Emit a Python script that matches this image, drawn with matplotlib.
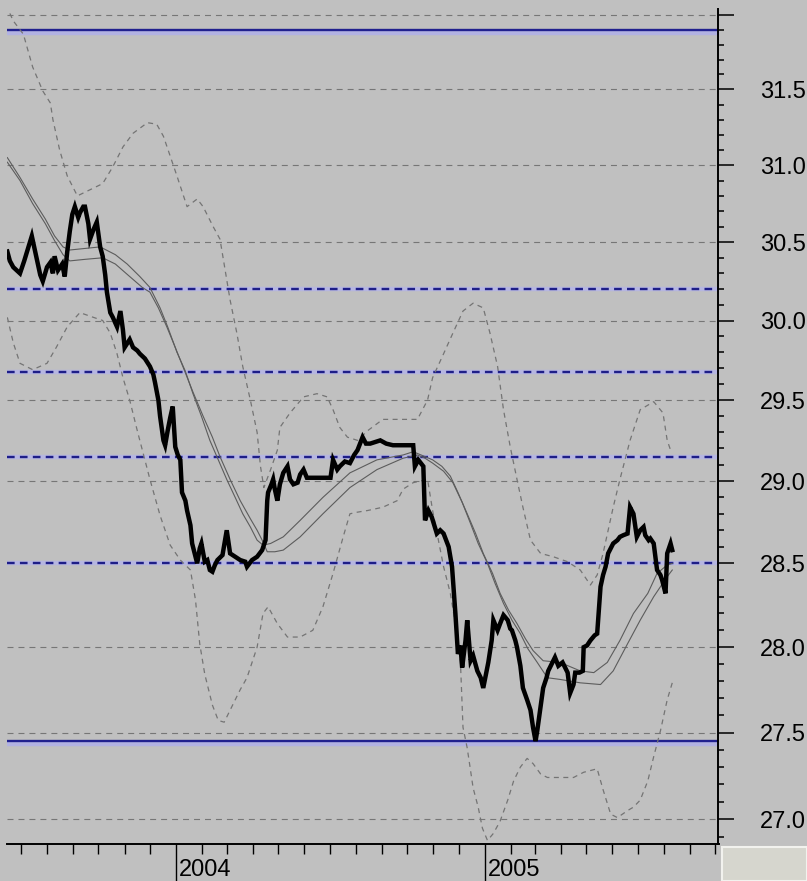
import matplotlib
matplotlib.use("Agg")
import matplotlib.pyplot as plt
import matplotlib.dates as mdates
import matplotlib.transforms as mtransforms
from matplotlib.patches import Rectangle
from matplotlib.ticker import FixedLocator, FuncFormatter, NullFormatter
import pandas as pd

plt.rcParams['font.family'] = ['Liberation Sans', 'DejaVu Sans']
plt.rcParams['lines.scale_dashes'] = False

# ---------------- data ----------------
price_dates = [
    '2003-06-15', '2003-06-18', '2003-06-22', '2003-06-26', '2003-06-30', '2003-07-05', '2003-07-09', '2003-07-14', '2003-07-18', '2003-07-20',
    '2003-07-24', '2003-07-27', '2003-08-01', '2003-08-05', '2003-08-08', '2003-08-10', '2003-08-14', '2003-08-19', '2003-08-22', '2003-08-25',
    '2003-08-28', '2003-08-31', '2003-09-03', '2003-09-07', '2003-09-09', '2003-09-13', '2003-09-15', '2003-09-19', '2003-09-21', '2003-09-25',
    '2003-09-29', '2003-10-03', '2003-10-06', '2003-10-09', '2003-10-11', '2003-10-15', '2003-10-18', '2003-10-23', '2003-10-27', '2003-10-30',
    '2003-11-01', '2003-11-07', '2003-11-11', '2003-11-16', '2003-11-19', '2003-11-25', '2003-12-01', '2003-12-05', '2003-12-07', '2003-12-11',
    '2003-12-13', '2003-12-17', '2003-12-19', '2003-12-22', '2003-12-25', '2003-12-28', '2003-12-31', '2004-01-03', '2004-01-06', '2004-01-08',
    '2004-01-12', '2004-01-14', '2004-01-18', '2004-01-20', '2004-01-24', '2004-01-26', '2004-01-29', '2004-01-31', '2004-02-04', '2004-02-07',
    '2004-02-10', '2004-02-13', '2004-02-16', '2004-02-19', '2004-02-25', '2004-02-28', '2004-03-01', '2004-03-05', '2004-03-11', '2004-03-17',
    '2004-03-23', '2004-03-25', '2004-03-31', '2004-04-06', '2004-04-12', '2004-04-16', '2004-04-17', '2004-04-18', '2004-04-19', '2004-04-23',
    '2004-04-25', '2004-04-27', '2004-04-30', '2004-05-03', '2004-05-07', '2004-05-12', '2004-05-15', '2004-05-19', '2004-05-24', '2004-05-27',
    '2004-05-31', '2004-06-04', '2004-06-08', '2004-06-14', '2004-06-23', '2004-07-02', '2004-07-05', '2004-07-10', '2004-07-13', '2004-07-19',
    '2004-07-25', '2004-07-30', '2004-08-03', '2004-08-06', '2004-08-09', '2004-08-13', '2004-08-18', '2004-08-24', '2004-08-30', '2004-09-06',
    '2004-09-14', '2004-09-23', '2004-09-28', '2004-10-04', '2004-10-08', '2004-10-10', '2004-10-14', '2004-10-20', '2004-10-22', '2004-10-26',
    '2004-10-30', '2004-11-05', '2004-11-09', '2004-11-13', '2004-11-19', '2004-11-23', '2004-11-27', '2004-11-30', '2004-12-03', '2004-12-05',
    '2004-12-09', '2004-12-11', '2004-12-15', '2004-12-18', '2004-12-23', '2004-12-27', '2004-12-30', '2005-01-03', '2005-01-05', '2005-01-09',
    '2005-01-11', '2005-01-16', '2005-01-19', '2005-01-23', '2005-01-28', '2005-01-31', '2005-02-02', '2005-02-06', '2005-02-08', '2005-02-12',
    '2005-02-15', '2005-02-20', '2005-02-24', '2005-02-27', '2005-03-02', '2005-03-04', '2005-03-08', '2005-03-11', '2005-03-15', '2005-03-17',
    '2005-03-22', '2005-03-25', '2005-03-29', '2005-04-03', '2005-04-06', '2005-04-09', '2005-04-12', '2005-04-16', '2005-04-18', '2005-04-23',
    '2005-04-27', '2005-04-28', '2005-05-02', '2005-05-06', '2005-05-11', '2005-05-14', '2005-05-18', '2005-05-21', '2005-05-24', '2005-05-27',
    '2005-05-30', '2005-06-02', '2005-06-07', '2005-06-10', '2005-06-14', '2005-06-19', '2005-06-22', '2005-06-26', '2005-06-28', '2005-06-30',
    '2005-07-04', '2005-07-08', '2005-07-10', '2005-07-14', '2005-07-16', '2005-07-20', '2005-07-24', '2005-07-28', '2005-07-30', '2005-08-03',
    '2005-08-05', '2005-08-09', '2005-08-11',
]
price_values = [
    30.44, 30.38, 30.34, 30.32, 30.30, 30.38, 30.45, 30.54, 30.44, 30.39,
    30.29, 30.25, 30.34, 30.37, 30.30, 30.41, 30.32, 30.36, 30.28, 30.44,
    30.57, 30.68, 30.73, 30.66, 30.69, 30.73, 30.73, 30.62, 30.52, 30.58,
    30.63, 30.47, 30.41, 30.29, 30.18, 30.05, 30.02, 29.96, 30.06, 29.94,
    29.83, 29.88, 29.83, 29.81, 29.79, 29.76, 29.71, 29.66, 29.61, 29.50,
    29.40, 29.25, 29.22, 29.31, 29.39, 29.46, 29.21, 29.16, 29.13, 28.93,
    28.88, 28.82, 28.73, 28.62, 28.54, 28.50, 28.59, 28.62, 28.51, 28.52,
    28.46, 28.45, 28.49, 28.52, 28.55, 28.64, 28.70, 28.56, 28.54, 28.52,
    28.51, 28.48, 28.52, 28.54, 28.58, 28.64, 28.76, 28.88, 28.93, 28.98,
    29.01, 28.95, 28.88, 28.98, 29.05, 29.09, 29.01, 28.98, 28.99, 29.04,
    29.07, 29.02, 29.02, 29.02, 29.02, 29.02, 29.13, 29.07, 29.09, 29.12,
    29.11, 29.16, 29.19, 29.23, 29.27, 29.23, 29.23, 29.24, 29.25, 29.23,
    29.22, 29.22, 29.22, 29.22, 29.22, 29.09, 29.13, 29.09, 28.76, 28.82,
    28.78, 28.68, 28.70, 28.68, 28.60, 28.48, 28.20, 27.96, 28.01, 27.88,
    28.04, 28.16, 27.92, 27.95, 27.86, 27.82, 27.76, 27.86, 27.91, 28.04,
    28.16, 28.10, 28.14, 28.19, 28.16, 28.11, 28.10, 28.04, 28.00, 27.89,
    27.76, 27.69, 27.63, 27.53, 27.45, 27.51, 27.65, 27.76, 27.82, 27.86,
    27.91, 27.94, 27.89, 27.91, 27.88, 27.85, 27.73, 27.78, 27.85, 27.85,
    27.86, 28.00, 28.01, 28.04, 28.07, 28.08, 28.36, 28.43, 28.48, 28.56,
    28.59, 28.62, 28.64, 28.66, 28.67, 28.68, 28.84, 28.80, 28.73, 28.66,
    28.70, 28.72, 28.67, 28.64, 28.65, 28.62, 28.46, 28.43, 28.40, 28.32,
    28.56, 28.62, 28.58,
]

ma_upper_dates = [
    '2003-06-15', '2003-06-30', '2003-07-15', '2003-07-30', '2003-08-10', '2003-08-20', '2003-08-28', '2003-09-15', '2003-10-03', '2003-10-21',
    '2003-11-04', '2003-11-19', '2003-12-01', '2003-12-13', '2003-12-22', '2004-01-02', '2004-01-12', '2004-01-21', '2004-01-31', '2004-02-10',
    '2004-02-20', '2004-03-01', '2004-03-11', '2004-03-20', '2004-03-29', '2004-04-06', '2004-04-13', '2004-04-22', '2004-05-07', '2004-05-27',
    '2004-06-23', '2004-07-25', '2004-08-26', '2004-09-26', '2004-10-08', '2004-10-22', '2004-10-31', '2004-11-11', '2004-11-21', '2004-11-30',
    '2004-12-11', '2004-12-21', '2004-12-30', '2005-01-10', '2005-01-19', '2005-01-29', '2005-02-08', '2005-02-18', '2005-02-27', '2005-03-11',
    '2005-03-31', '2005-04-24', '2005-05-10', '2005-05-26', '2005-06-10', '2005-06-26', '2005-07-13', '2005-07-24', '2005-08-05', '2005-08-11',
]
ma_upper_values = [
    31.05, 30.92, 30.78, 30.65, 30.54, 30.47, 30.45, 30.46, 30.47, 30.42,
    30.36, 30.28, 30.21, 30.08, 29.96, 29.80, 29.68, 29.54, 29.40, 29.25,
    29.13, 29.01, 28.90, 28.80, 28.72, 28.64, 28.61, 28.62, 28.66, 28.76,
    28.90, 29.05, 29.13, 29.16, 29.18, 29.15, 29.13, 29.09, 29.03, 28.93,
    28.80, 28.68, 28.56, 28.44, 28.32, 28.22, 28.14, 28.05, 27.98, 27.92,
    27.91, 27.86, 27.85, 27.91, 28.04, 28.20, 28.32, 28.44, 28.49, 28.50,
]

ma_lower_dates = [
    '2003-06-15', '2003-06-30', '2003-07-15', '2003-07-30', '2003-08-10', '2003-08-20', '2003-08-28', '2003-09-15', '2003-10-06', '2003-10-21',
    '2003-11-07', '2003-11-22', '2003-12-01', '2003-12-11', '2003-12-21', '2003-12-31', '2004-01-09', '2004-01-21', '2004-02-02', '2004-02-13',
    '2004-02-22', '2004-03-05', '2004-03-17', '2004-03-29', '2004-04-06', '2004-04-12', '2004-04-18', '2004-04-27', '2004-05-07', '2004-05-27',
    '2004-06-23', '2004-07-25', '2004-08-26', '2004-09-26', '2004-10-13', '2004-10-22', '2004-10-31', '2004-11-13', '2004-11-24', '2004-12-05',
    '2004-12-15', '2004-12-24', '2005-01-04', '2005-01-13', '2005-01-23', '2005-02-02', '2005-02-12', '2005-02-21', '2005-03-04', '2005-03-16',
    '2005-03-31', '2005-04-24', '2005-05-18', '2005-06-02', '2005-06-19', '2005-07-04', '2005-07-20', '2005-08-05', '2005-08-11',
]
ma_lower_values = [
    31.02, 30.90, 30.75, 30.62, 30.51, 30.42, 30.38, 30.39, 30.40, 30.36,
    30.28, 30.21, 30.18, 30.08, 29.96, 29.83, 29.71, 29.55, 29.40, 29.27,
    29.15, 29.01, 28.88, 28.77, 28.70, 28.64, 28.57, 28.57, 28.58, 28.66,
    28.80, 28.96, 29.07, 29.14, 29.16, 29.14, 29.11, 29.06, 28.99, 28.87,
    28.74, 28.62, 28.50, 28.38, 28.26, 28.16, 28.08, 27.99, 27.91, 27.82,
    27.81, 27.79, 27.78, 27.86, 28.02, 28.16, 28.30, 28.42, 28.46,
]

band_upper_dates = [
    '2003-06-18', '2003-06-22', '2003-07-04', '2003-07-15', '2003-07-27', '2003-08-05', '2003-08-08', '2003-08-16', '2003-08-25', '2003-09-06',
    '2003-09-21', '2003-10-06', '2003-10-18', '2003-10-30', '2003-11-11', '2003-11-28', '2003-12-09', '2003-12-17', '2003-12-25', '2004-01-02',
    '2004-01-14', '2004-01-26', '2004-02-02', '2004-02-14', '2004-02-22', '2004-02-26', '2004-03-05', '2004-03-13', '2004-03-20', '2004-03-29',
    '2004-04-06', '2004-04-10', '2004-04-14', '2004-04-22', '2004-04-30', '2004-05-03', '2004-05-15', '2004-05-31', '2004-06-16', '2004-06-28',
    '2004-07-05', '2004-07-13', '2004-07-22', '2004-08-03', '2004-08-15', '2004-09-02', '2004-09-23', '2004-10-13', '2004-10-25', '2004-10-31',
    '2004-11-13', '2004-11-24', '2004-12-06', '2004-12-18', '2004-12-30', '2005-01-07', '2005-01-16', '2005-01-23', '2005-01-31', '2005-02-08',
    '2005-02-15', '2005-02-24', '2005-03-08', '2005-03-23', '2005-04-09', '2005-04-24', '2005-05-06', '2005-05-14', '2005-05-21', '2005-06-02',
    '2005-06-10', '2005-06-22', '2005-07-04', '2005-07-20', '2005-07-31', '2005-08-05', '2005-08-09',
]
band_upper_values = [
    32.01, 31.96, 31.87, 31.65, 31.49, 31.41, 31.30, 31.10, 30.93, 30.80,
    30.84, 30.88, 30.99, 31.12, 31.21, 31.28, 31.27, 31.19, 31.06, 30.93,
    30.73, 30.78, 30.73, 30.60, 30.52, 30.39, 30.13, 29.92, 29.71, 29.50,
    29.30, 29.09, 28.96, 29.07, 29.19, 29.33, 29.42, 29.52, 29.54, 29.52,
    29.44, 29.33, 29.27, 29.25, 29.31, 29.38, 29.38, 29.38, 29.50, 29.64,
    29.79, 29.92, 30.06, 30.11, 30.08, 29.92, 29.71, 29.44, 29.21, 29.01,
    28.84, 28.64, 28.56, 28.54, 28.51, 28.46, 28.37, 28.43, 28.56, 28.84,
    29.01, 29.25, 29.44, 29.49, 29.42, 29.25, 29.19,
]

band_lower_dates = [
    '2003-06-15', '2003-06-22', '2003-06-30', '2003-07-15', '2003-08-01', '2003-08-12', '2003-08-25', '2003-09-09', '2003-09-25', '2003-10-06',
    '2003-10-15', '2003-10-23', '2003-10-30', '2003-11-07', '2003-11-16', '2003-11-23', '2003-12-01', '2003-12-13', '2003-12-25', '2004-01-06',
    '2004-01-18', '2004-01-24', '2004-01-29', '2004-02-04', '2004-02-13', '2004-02-20', '2004-02-27', '2004-03-05', '2004-03-17', '2004-03-25',
    '2004-04-06', '2004-04-13', '2004-04-19', '2004-04-30', '2004-05-12', '2004-05-27', '2004-06-11', '2004-06-23', '2004-07-05', '2004-07-17',
    '2004-07-25', '2004-08-03', '2004-08-15', '2004-09-02', '2004-09-19', '2004-09-26', '2004-10-08', '2004-10-25', '2004-10-31', '2004-11-13',
    '2004-11-21', '2004-11-29', '2004-12-03', '2004-12-06', '2004-12-11', '2004-12-18', '2004-12-24', '2004-12-29', '2005-01-04', '2005-01-11',
    '2005-01-19', '2005-01-28', '2005-02-04', '2005-02-12', '2005-02-20', '2005-02-27', '2005-03-08', '2005-03-16', '2005-03-31', '2005-04-16',
    '2005-04-28', '2005-05-14', '2005-05-21', '2005-05-30', '2005-06-07', '2005-06-19', '2005-06-26', '2005-07-04', '2005-07-13', '2005-07-20',
    '2005-07-28', '2005-08-05', '2005-08-11',
]
band_lower_values = [
    30.02, 29.86, 29.73, 29.69, 29.73, 29.83, 29.96, 30.05, 30.02, 30.00,
    29.92, 29.79, 29.64, 29.50, 29.31, 29.17, 29.01, 28.79, 28.61, 28.52,
    28.46, 28.28, 28.02, 27.84, 27.66, 27.57, 27.56, 27.63, 27.75, 27.82,
    28.00, 28.20, 28.24, 28.14, 28.06, 28.06, 28.10, 28.24, 28.44, 28.66,
    28.80, 28.81, 28.82, 28.84, 28.88, 28.95, 28.99, 29.01, 28.82, 28.48,
    28.32, 28.08, 27.91, 27.53, 27.41, 27.18, 27.07, 26.95, 26.88, 26.92,
    26.99, 27.11, 27.22, 27.30, 27.35, 27.32, 27.26, 27.24, 27.24, 27.24,
    27.27, 27.29, 27.17, 27.03, 27.01, 27.05, 27.07, 27.11, 27.22, 27.36,
    27.51, 27.69, 27.79,
]

fib_solid_levels = [31.90, 27.45]
fib_dashed_levels = [30.20, 29.675, 29.15, 28.50]

grid_levels = [27.0, 27.5, 28.0, 28.5, 29.0, 29.5, 30.0, 30.5, 31.0, 31.5, 32.0]
y_major_ticks = grid_levels
y_minor_ticks = [round(26.9 + 0.1 * i, 1) for i in range(52)]
year_labels = ['2004', '2005']
year_dates = ['2004-01-01', '2005-01-01']

# ---------------- figure ----------------
W, H = 807, 881
BG = '#c0c0c0'
fig = plt.figure(figsize=(W / 100, H / 100), dpi=100)
fig.patch.set_facecolor(BG)
L, R, T, B = 7, 718.5, 9, 844
ax = fig.add_axes([L / W, 1 - B / H, (R - L) / W, (B - T) / H])
ax.set_facecolor(BG)


def dn(lst):
    return mdates.date2num(pd.to_datetime(lst).to_pydatetime())


ref = mdates.date2num(pd.Timestamp('2004-01-01').to_pydatetime())
ax.set_xlim(ref - 200.4, ref + 642.8)
ax.set_yscale('log')
ax.set_ylim(26.86, 32.04)

# grid
for v in grid_levels:
    ax.axhline(v, color='#767676', lw=0.8, dashes=(4.3, 3.6), zorder=1)

# fibonacci lines
halo_below = mtransforms.offset_copy(ax.transData, fig=fig, x=0, y=-3, units='dots')
for v in fib_solid_levels:
    ax.plot([0, 1], [v, v], transform=mtransforms.blended_transform_factory(ax.transAxes, halo_below),
            color='#b2b2e2', lw=3.2, zorder=2, solid_capstyle='butt')
    ax.axhline(v, color='#20208e', lw=1.7, zorder=3)
for v in fib_dashed_levels:
    ax.axhline(v, color='#b6b6e0', lw=3.2, zorder=2)
    ax.axhline(v, color='#1e1e88', lw=1.7, dashes=(5.5, 3.8), zorder=3)

# bands
ax.plot(dn(band_upper_dates), band_upper_values, color='#747474', lw=0.9, dashes=(3.6, 3.2), zorder=4)
ax.plot(dn(band_lower_dates), band_lower_values, color='#747474', lw=0.9, dashes=(3.6, 3.2), zorder=4)

# moving averages
ax.plot(dn(ma_upper_dates), ma_upper_values, color='#5c5c5c', lw=0.8, zorder=5)
ax.plot(dn(ma_lower_dates), ma_lower_values, color='#5c5c5c', lw=0.8, zorder=5)

# price
ax.plot(dn(price_dates), price_values, color='black', lw=3.2, zorder=6,
        solid_joinstyle='miter')

# axes styling
for s in ['left', 'top']:
    ax.spines[s].set_visible(False)
for s in ['right', 'bottom']:
    ax.spines[s].set_linewidth(1.4)
    ax.spines[s].set_color('black')
    ax.spines[s].set_zorder(7)

ax.yaxis.tick_right()
ax.yaxis.set_major_locator(FixedLocator(y_major_ticks))
ax.yaxis.set_minor_locator(FixedLocator([t for t in y_minor_ticks if round(t * 2, 3) != round(t * 2)]))
ax.yaxis.set_major_formatter(FuncFormatter(lambda v, p: '' if v > 31.9 else f'{v:.1f}'))
ax.yaxis.set_minor_formatter(NullFormatter())
ax.tick_params(axis='y', which='major', length=11.5, width=1.1, pad=18.5, labelsize=17,
               colors='black', direction='out', right=True, left=False)
ax.tick_params(axis='y', which='minor', length=4.5, width=1.1, direction='out', right=True, left=False)

ax.xaxis.set_major_locator(FixedLocator(dn(year_dates)))
ax.xaxis.set_minor_locator(mdates.MonthLocator())
ax.tick_params(axis='x', which='major', length=27, width=1.0, direction='out', labelbottom=False)
ax.tick_params(axis='x', which='minor', length=7.5, width=1.0, direction='out')

for lab, xv in zip(year_labels, dn(year_dates)):
    ax.annotate(lab, xy=(xv, 0), xycoords=('data', 'axes fraction'), xytext=(3, -15),
                textcoords='offset pixels', ha='left', va='top', fontsize=17,
                color='black', annotation_clip=False)

# blank panel in the lower right corner
fig.add_artist(Rectangle((722 / W, 0), (W - 722) / W, (H - 847) / H, transform=fig.transFigure,
                         facecolor='#d6d6ce', edgecolor='#f2f2ee', lw=1.5, zorder=0))

fig.savefig('out.png', dpi=100, facecolor=BG)
